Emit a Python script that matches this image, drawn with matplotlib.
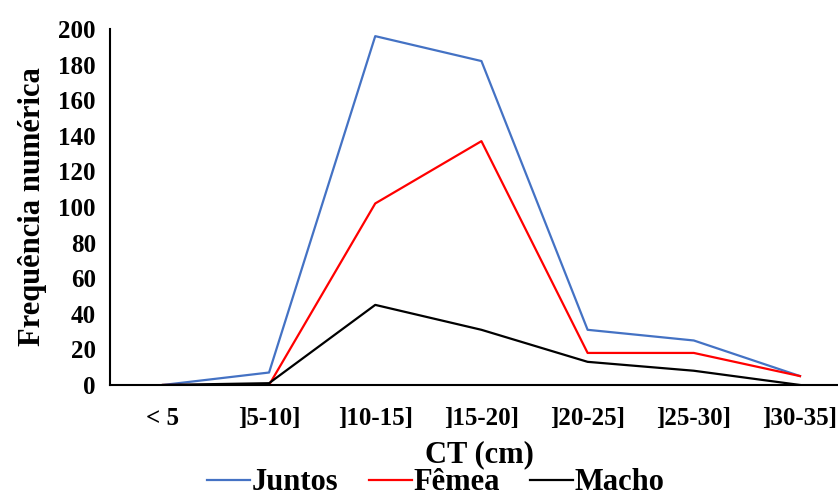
import matplotlib.pyplot as plt

categorias = ["< 5", "]5-10]", "]10-15]", "]15-20]", "]20-25]", "]25-30]", "]30-35]"]
juntos = [0, 7, 196, 182, 31, 25, 5]
femea = [0, 0, 102, 137, 18, 18, 5]
macho = [0, 1, 45, 31, 13, 8, 0]

plt.rcParams["font.family"] = ["Liberation Serif", "DejaVu Serif"]
plt.rcParams["font.weight"] = "bold"

fig = plt.figure(figsize=(8.38, 4.97), dpi=100, facecolor="white")
ax = fig.add_axes([0.131, 0.2254, 0.887, 0.7162])

x = range(len(categorias))
ax.plot(x, juntos, color="#4472c4", linewidth=1.6, label="Juntos")
ax.plot(x, femea, color="#ff0000", linewidth=1.6, label="Fêmea")
ax.plot(x, macho, color="#000000", linewidth=1.6, label="Macho")

ax.set_xlim(-0.5, 6.5)
ax.set_ylim(0, 200)
ax.set_yticks(range(0, 201, 20))
ax.set_xticks(list(x))
ax.set_xticklabels(categorias)
ax.tick_params(axis="both", length=0, labelsize=18)
ax.tick_params(axis="x", pad=16)
ax.tick_params(axis="y", pad=10)
for lab in ax.get_xticklabels() + ax.get_yticklabels():
    lab.set_fontweight("bold")

for s in ["top", "right"]:
    ax.spines[s].set_visible(False)
for s in ["left", "bottom"]:
    ax.spines[s].set_linewidth(1.5)
    ax.spines[s].set_color("black")

ax.set_ylabel("Frequência numérica", fontsize=22, fontweight="bold", labelpad=8)
ax.set_xlabel("CT (cm)", fontsize=22, fontweight="bold")
ax.xaxis.set_label_coords((480 - 110) / 743, -0.155)

fig.legend(loc="center", bbox_to_anchor=(436 / 838, 1 - 483 / 497), ncol=3,
           frameon=False, handlelength=1.4, handletextpad=0.05,
           columnspacing=1.0, borderaxespad=0, borderpad=0,
           prop={"weight": "bold", "size": 22})

fig.savefig("out.png", dpi=100, facecolor="white")
